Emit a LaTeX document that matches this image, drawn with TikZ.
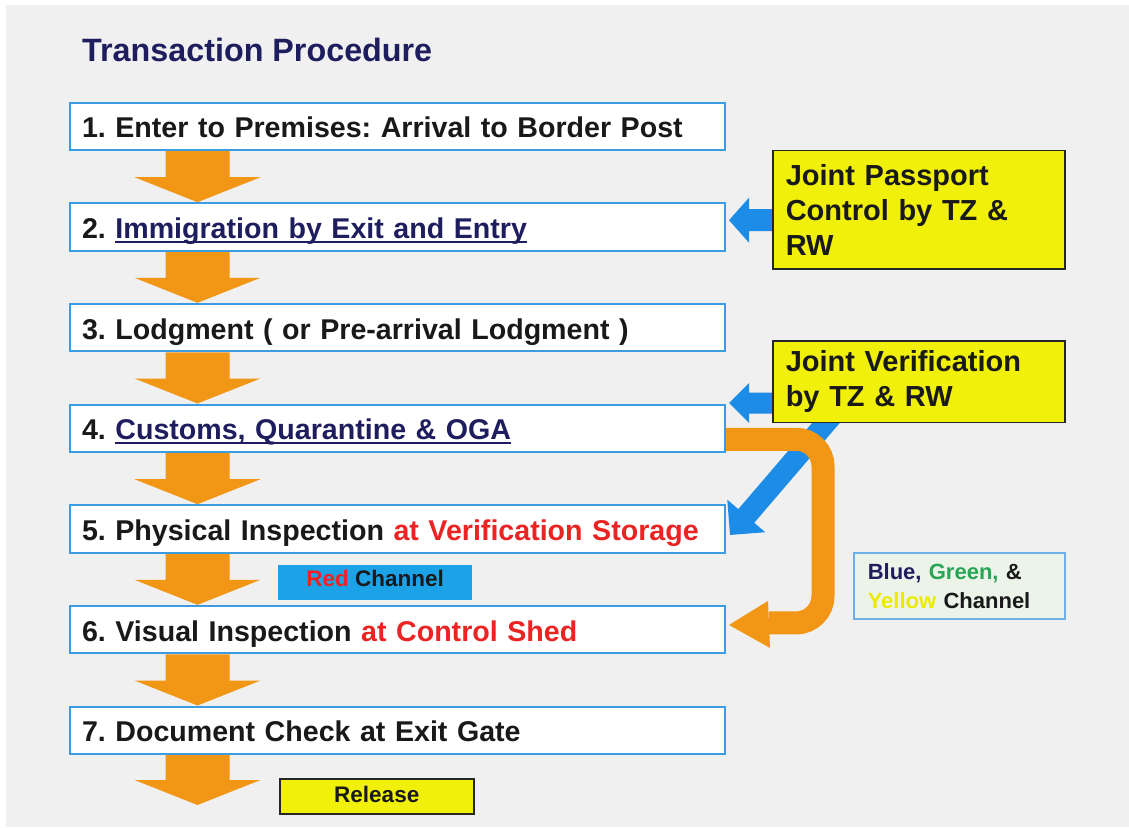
\documentclass[tikz,border=0pt]{standalone}
\usepackage{fontspec}
\setmainfont{Liberation Sans}
\usetikzlibrary{calc}
\definecolor{bggray}{RGB}{240,240,240}
\definecolor{boxblue}{RGB}{60,155,225}
\definecolor{arrblue}{RGB}{28,140,230}
\definecolor{chanblue}{RGB}{28,162,230}
\definecolor{orangec}{RGB}{242,150,22}
\definecolor{yel}{RGB}{240,240,10}
\definecolor{navy}{RGB}{30,30,95}
\definecolor{redt}{RGB}{235,35,35}
\definecolor{greent}{RGB}{40,165,85}
\definecolor{yelt}{RGB}{235,235,0}
\definecolor{chanfill}{RGB}{236,243,232}
\definecolor{chanedge}{RGB}{110,175,230}
\pgfdeclarelayer{back}
\pgfdeclarelayer{arrows}
\pgfsetlayers{back,arrows,main}
\hyphenpenalty=10000
\newcommand\navyul[1]{\setbox0\hbox{#1}\rlap{\rule[-4.5pt]{\wd0}{1.8pt}}\box0}
% #1 colour, #2 tail, #3 tip, #4 shaft half width, #5 head half width, #6 head length
\newcommand\blockarrow[6]{%
  \path ($(#3)!#6!(#2)$) coordinate (hb);
  \fill[#1] ($(hb)!#4!90:(#2)$) -- ($(#2)!#4!-90:(hb)$) -- ($(#2)!#4!90:(hb)$)
    -- ($(hb)!#4!-90:(#2)$) -- ($(hb)!#5!-90:(#2)$) -- (#3) -- ($(hb)!#5!90:(#2)$) -- cycle;}
\tikzset{
  stepbox/.style={draw=boxblue, line width=2pt, fill=white, anchor=north west,
    minimum height=47.5pt, text width=631pt, inner xsep=12pt, inner ysep=0pt,
    align=left, font=\fontsize{28.6}{35}\selectfont\bfseries\frenchspacing, text height=23pt,
    text depth=0pt, text=black!90},
  yellowbox/.style={draw=black!85, line width=1.5pt, fill=yel, anchor=north west,
    text width=266pt, inner xsep=13pt, inner ysep=0pt, align=left,
    font=\fontsize{29}{35}\selectfont\bfseries\frenchspacing, text=black!90},
  smallbox/.style={anchor=north west, minimum width=194pt, minimum height=35pt,
    inner sep=0pt, font=\fontsize{22.5}{25}\selectfont\bfseries, text=black!90},
}
\begin{document}
\begin{tikzpicture}[x=1pt,y=-1pt]
\useasboundingbox (0,0) rectangle (1129,827);
\begin{pgfonlayer}{back}
  \fill[white] (0,0) rectangle (1129,827);
  \fill[bggray] (6,5) rectangle (1129,827);
\end{pgfonlayer}

\node[anchor=base west, inner sep=0pt, font=\fontsize{32.3}{38}\selectfont\bfseries, text=navy]
  (title) at (82,61.5) {Transaction Procedure};

\node[stepbox] (b1) at (69,101.5) {1. Enter to Premises: Arrival to Border Post};
\node[stepbox] (b2) at (69,202.2) {2. {\color{navy}\navyul{Immigration by Exit and Entry}}};
\node[stepbox] (b3) at (69,302.8) {3. Lodgment ( or Pre-arrival Lodgment )};
\node[stepbox] (b4) at (69,403.5) {4. {\color{navy}\navyul{Customs, Quarantine \& OGA}}};
\node[stepbox] (b5) at (69,504.2) {5. Physical Inspection {\color{redt}at Verification Storage}};
\node[stepbox] (b6) at (69,604.8) {6. Visual Inspection {\color{redt}at Control Shed}};
\node[stepbox] (b7) at (69,705.5) {7. Document Check at Exit Gate};

\node[yellowbox, minimum height=118.5pt] (y1) at (772,149.5)
  {Joint Passport\\Control by TZ \&\\RW};
\node[yellowbox, minimum height=81.7pt] (y2) at (772,340)
  {Joint Verification\\by TZ \& RW};

\node[smallbox, fill=chanblue, text height=15pt, text depth=7pt] (red) at (278,565)
  {{\color{redt}Red} Channel};
\node[smallbox, fill=yel, draw=black!85, line width=1.5pt, text height=15pt, text depth=3pt]
  (rel) at (279,778) {Release};
\node[anchor=north west, minimum width=211pt, minimum height=66pt, text width=183pt,
  inner xsep=14pt, inner ysep=0pt, align=left, fill=chanfill, draw=chanedge, line width=1.5pt,
  font=\fontsize{22}{29}\selectfont\bfseries, text=black!90] (chan) at (853,552)
  {{\color{navy}Blue,} {\color{greent}Green,} \&\\{\color{yelt}Yellow} Channel};

\begin{pgfonlayer}{arrows}
  % orange down arrows
  \coordinate (ax) at (197.5,0);
  \foreach \a/\b in {b1/b2,b2/b3,b3/b4,b4/b5,b5/b6,b6/b7}{
    \coordinate (s) at (\a.south -| ax);
    \coordinate (t) at (\b.north -| ax);
    \blockarrow{orangec}{s}{t}{32pt}{63pt}{25pt}
  }
  \coordinate (s7) at (b7.south -| ax);
  \coordinate (end) at ($(s7)+(0,50)$);
  \blockarrow{orangec}{s7}{end}{32pt}{63pt}{25pt}
  % blue arrows
  \coordinate (tip1) at ($(b2.north east)+(3,18)$);
  \coordinate (t1) at (tip1 -| y1.west);
  \coordinate (tail1) at ($(t1)+(6,0)$);
  \blockarrow{arrblue}{tail1}{tip1}{11pt}{22.5pt}{20pt}
  \coordinate (tip2) at ($(b4.north east)+(3,-0.5)$);
  \coordinate (t2) at (tip2 -| y2.west);
  \coordinate (tail2) at ($(t2)+(6,0)$);
  \blockarrow{arrblue}{tail2}{tip2}{10.5pt}{20pt}{20pt}
  \coordinate (tip3) at ($(b5.east)+(4,6)$);
  \coordinate (tail3) at ($(y2.south west)+(64,-12)$);
  \blockarrow{arrblue}{tail3}{tip3}{10.5pt}{25pt}{25pt}
  % orange curved arrow
  \coordinate (o0) at ($(b4.east)+(0,11)$);
  \coordinate (o1) at ($(o0)+(97,0)$);
  \coordinate (otip) at ($(b6.east)+(3,-4.6)$);
  \coordinate (o2) at (o1 |- otip);
  \coordinate (o3) at ($(otip)+(40,-2)$);
  \draw[orangec, line width=23pt, rounded corners=27pt] (o0) -- (o1) -- ($(o2)+(0,-2)$) -- (o3);
  \fill[orangec] ($(otip)+(39,-24)$) -- (otip) -- ($(otip)+(41,23)$) -- cycle;
\end{pgfonlayer}
\end{tikzpicture}
\end{document}
